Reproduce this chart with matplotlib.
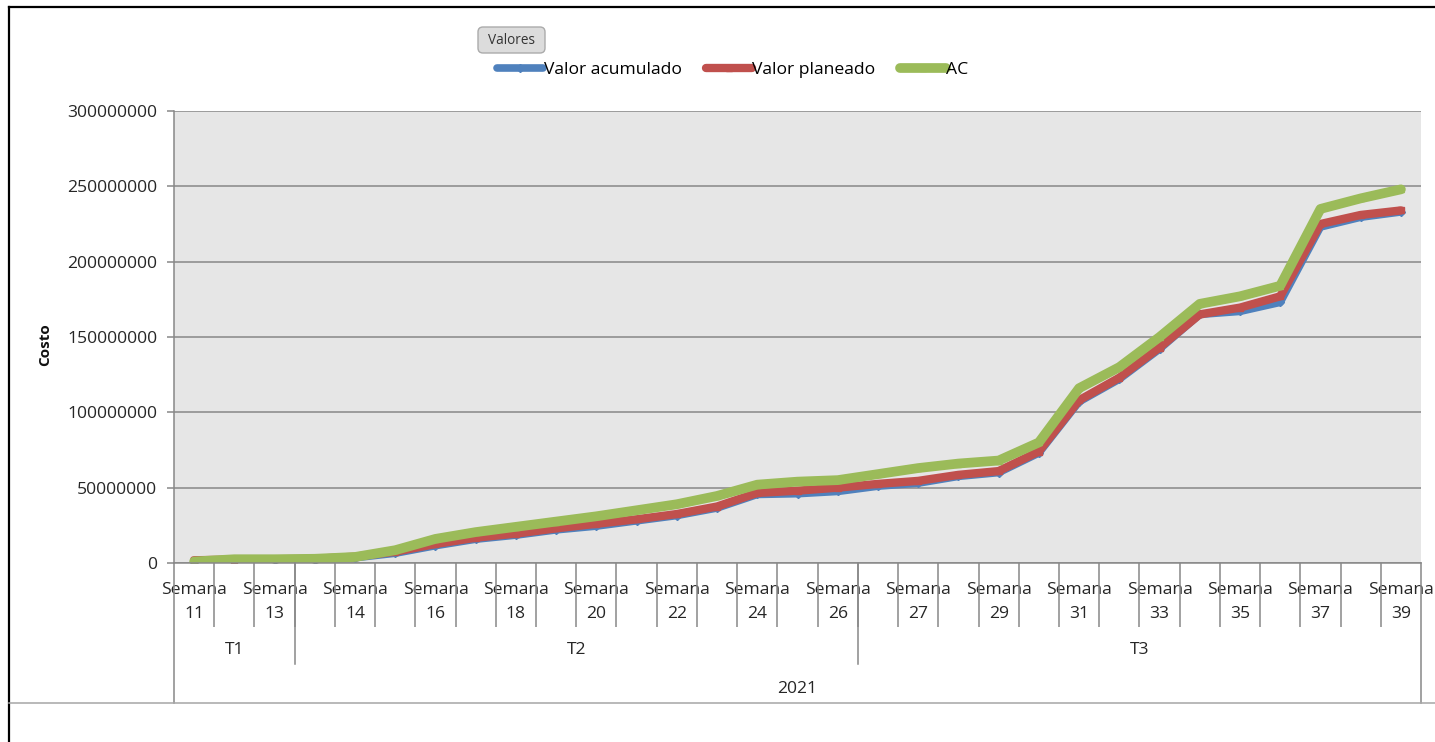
import numpy as np
import matplotlib
matplotlib.use('Agg')
import matplotlib.pyplot as plt
from matplotlib.lines import Line2D
from matplotlib.patches import FancyBboxPatch
from matplotlib.ticker import FuncFormatter
from matplotlib.transforms import IdentityTransform

plt.rcParams['font.family'] = ['Open Sans', 'DejaVu Sans']

# semanas del eje (la 13 y la 26 caen en dos trimestres)
semanas = [11, 12, 13,
           13, 14, 15, 16, 17, 18, 19, 20, 21, 22, 23, 24, 25, 26,
           26, 27, 28, 29, 30, 31, 32, 33, 34, 35, 36, 37, 38, 39]
trimestres = ['T1', 'T2', 'T3']
semanas_por_trimestre = [3, 14, 14]
anio = '2021'

# costos acumulados, en millones
valor_acumulado = [0.5, 1.5, 2.0, 2.3, 3.5, 6.5, 11.5, 15.8, 18.5, 22.0,
                   24.5, 28.0, 31.5, 36.5, 45.5, 46.0, 47.5, 51.0, 53.0, 57.5,
                   60.0, 73.0, 107.0, 122.0, 142.0, 165.0, 167.0, 173.0, 223.0, 229.5,
                   233.0]
valor_planeado = [1.8, 2.3, 2.5, 2.8, 4.2, 7.5, 12.6, 16.8, 19.5, 23.0,
                  26.0, 29.0, 32.5, 37.5, 46.5, 48.0, 50.0, 52.5, 54.5, 58.5,
                  61.0, 74.0, 108.0, 123.0, 143.0, 165.0, 169.5, 177.0, 225.0, 231.0,
                  234.0]
ac = [1.0, 2.5, 2.5, 2.8, 4.0, 8.5, 16.0, 20.5, 24.0, 27.5,
      31.0, 35.0, 39.0, 44.5, 52.0, 54.0, 55.0, 59.0, 63.0, 66.0,
      68.0, 80.0, 116.0, 130.0, 150.0, 172.0, 177.0, 184.0, 235.0, 242.0,
      248.0]

W, H = 1435, 742
fig = plt.figure(figsize=(W / 100, H / 100), dpi=100)
fig.patch.set_facecolor('white')

# area de trazado
L, R, T, B = 174, 1421, 111, 563
ax = fig.add_axes([L / W, 1 - B / H, (R - L) / W, (B - T) / H])
ax.set_facecolor('#E6E6E6')

grid_col = '#888888'
x = np.arange(len(semanas))
estilo = dict(solid_capstyle='round', solid_joinstyle='round')
l1, = ax.plot(x, np.array(valor_acumulado) * 1e6, color='#4F81BD', lw=5.5,
              marker='D', ms=4, label='Valor acumulado', **estilo)
l2, = ax.plot(x, np.array(valor_planeado) * 1e6, color='#C0504D', lw=6,
              marker='s', ms=4.5, label='Valor planeado', **estilo)
l3, = ax.plot(x, np.array(ac) * 1e6, color='#9BBB59', lw=7,
              marker='^', ms=4.5, label='AC', **estilo)

ax.set_xlim(-0.5, len(semanas) - 0.5)
ax.set_ylim(0, 300e6)
ax.set_yticks(np.arange(0, 300e6 + 1, 50e6))
ax.yaxis.set_major_formatter(FuncFormatter(lambda v, p: f'{int(v)}'))
ax.grid(axis='y', color=grid_col, lw=1.1)
ax.set_axisbelow(True)
for s in ['top', 'right']:
    ax.spines[s].set_visible(False)
for s in ['left', 'bottom']:
    ax.spines[s].set_color(grid_col)
    ax.spines[s].set_linewidth(1.1)
ax.tick_params(axis='y', length=5, width=1.1, color=grid_col,
               labelsize=12.6, labelcolor='#262626', pad=7)

# etiquetas de semana cada dos categorias
ax.set_xticks(x[::2])
ax.set_xticklabels([f'Semana\n{s}' for s in semanas[::2]], linespacing=1.68)
ax.tick_params(axis='x', which='major', length=0, labelsize=12.6,
               labelcolor='#262626', pad=13.5)
ax.set_xticks(x[:-1] + 0.5, minor=True)
ax.tick_params(axis='x', which='minor', length=46, width=1.1, color=grid_col,
               direction='out')

# separadores de trimestre y bordes del eje de categorias
xt = ax.get_xaxis_transform()
fila2 = (B - 664) / (B - T)
fila3 = (B - 703) / (B - T)
limites = np.cumsum([0] + semanas_por_trimestre) - 0.5
for b in limites[1:-1]:
    ax.plot([b, b], [0, fila2], transform=xt, clip_on=False, color=grid_col, lw=1.1)
for b in [limites[0], limites[-1]]:
    ax.plot([b, b], [0, fila3], transform=xt, clip_on=False, color=grid_col, lw=1.1)

for nombre, a, b in zip(trimestres, limites[:-1], limites[1:]):
    ax.text((a + b) / 2, (B - 650) / (B - T), nombre, transform=xt,
            ha='center', va='center', fontsize=12.6, color='#262626')
ax.text((limites[0] + limites[-1]) / 2, (B - 689) / (B - T), anio, transform=xt,
        ha='center', va='center', fontsize=12.6, color='#262626')

fig.text(45 / W, 1 - 345 / H, 'Costo', rotation=90, ha='center', va='center',
         fontweight='bold', fontsize=11, color='#111111')

# leyenda y boton de campo
fig.legend(handles=[l1, l2, l3], loc='center', bbox_to_anchor=(733 / W, 1 - 70 / H),
           ncol=3, frameon=False, handlelength=2.6, handletextpad=0.05,
           columnspacing=1.4, fontsize=12.6, numpoints=1)
boton = FancyBboxPatch((478, H - 53), 67, 26, boxstyle='round,pad=0,rounding_size=5',
                       transform=IdentityTransform(), fc='#DCDCDC', ec='#ABABAB', lw=1)
fig.add_artist(boton)
fig.text(511.5 / W, 1 - 40 / H, 'Valores', ha='center', va='center',
         fontsize=9.8, color='#333333')

# marco exterior
fig.add_artist(Line2D([9 / W, 9 / W], [0, 1 - 7 / H], transform=fig.transFigure,
                      color='black', lw=1.6))
fig.add_artist(Line2D([9 / W, 1], [1 - 7 / H, 1 - 7 / H], transform=fig.transFigure,
                      color='black', lw=1.6))
fig.add_artist(Line2D([9 / W, 1], [1 - 703 / H, 1 - 703 / H], transform=fig.transFigure,
                      color='#A6A6A6', lw=1.1))

fig.savefig('out.png', dpi=100)
